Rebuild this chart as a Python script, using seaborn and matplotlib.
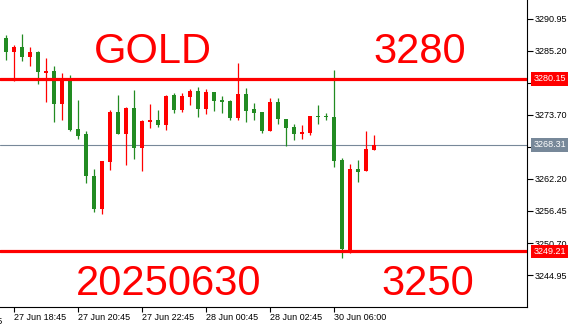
import numpy as np
import pandas as pd
import matplotlib
matplotlib.use("Agg")
import matplotlib.pyplot as plt
import matplotlib.transforms as mtransforms
import seaborn as sns

# ---------------- data (15-min bars, XAUUSD) ----------------
opens = [3288.67, 3287.42, 3284.96, 3285.80, 3284.06, 3284.90, 3281.19, 3281.50,
         3275.63, 3279.93, 3271.09, 3270.19, 3262.66, 3256.74, 3265.22, 3274.14,
         3270.19, 3274.86, 3267.73, 3272.40, 3272.70, 3271.86, 3277.19, 3274.55,
         3276.88, 3277.91, 3274.80, 3277.73, 3276.29, 3276.11, 3273.12, 3277.37,
         3274.68, 3274.14, 3270.78, 3275.93, 3272.88, 3271.45, 3270.25, 3270.43,
         3273.48, 3273.48, 3273.24, 3265.66, 3249.44, 3263.91, 3263.61, 3267.38]
closes = [3287.42, 3284.96, 3285.80, 3284.06, 3284.90, 3281.37, 3281.55, 3275.63,
          3279.93, 3270.96, 3269.89, 3262.71, 3256.74, 3265.35, 3274.14, 3270.19,
          3274.91, 3267.73, 3272.53, 3272.70, 3271.81, 3277.01, 3274.62, 3277.01,
          3277.91, 3274.80, 3277.73, 3276.17, 3276.06, 3273.12, 3277.37, 3274.37,
          3274.01, 3270.78, 3275.93, 3272.94, 3271.32, 3270.25, 3270.43, 3273.42,
          3273.24, 3273.24, 3265.40, 3249.56, 3263.91, 3263.43, 3267.50, 3268.31]
highs = [3289.03, 3287.95, 3286.16, 3288.13, 3285.80, 3285.08, 3283.83, 3282.39,
         3281.26, 3280.78, 3276.35, 3270.73, 3263.91, 3265.35, 3274.55, 3277.19,
         3275.09, 3278.14, 3272.76, 3275.63, 3274.50, 3277.19, 3277.55, 3277.55,
         3278.27, 3278.62, 3278.27, 3277.73, 3277.01, 3276.35, 3282.93, 3278.44,
         3275.75, 3274.14, 3276.65, 3276.65, 3272.88, 3271.99, 3271.81, 3273.42,
         3275.40, 3274.01, 3281.67, 3265.89, 3264.86, 3265.53, 3270.73, 3270.07]
lows = [3287.24, 3283.52, 3279.75, 3283.34, 3282.45, 3279.22, 3275.99, 3272.40,
        3272.76, 3270.78, 3269.42, 3261.53, 3256.26, 3255.84, 3263.79, 3270.19,
        3264.68, 3265.71, 3263.61, 3271.32, 3271.50, 3270.96, 3274.09, 3274.19,
        3275.52, 3273.37, 3273.91, 3274.44, 3274.01, 3272.76, 3272.76, 3272.40,
        3272.76, 3270.43, 3270.78, 3272.04, 3268.09, 3269.17, 3269.35, 3270.07,
        3272.04, 3272.76, 3264.33, 3248.00, 3248.90, 3261.64, 3263.61, 3267.38]

x_tick_pos = [2, 10, 18, 26, 34, 42]
x_tick_labels = ["27 Jun 18:45", "27 Jun 20:45", "27 Jun 22:45",
                 "28 Jun 00:45", "28 Jun 02:45", "30 Jun 06:00"]
y_ticks = [3290.95, 3285.20, 3279.45, 3273.70, 3267.95, 3262.20, 3256.45, 3250.70, 3244.95]
y_tick_labels = ["3290.95", "3285.20", "3279.45", "3273.70", "3267.95",
                 "3262.20", "3256.45", "3250.70", "3244.95"]
resistance = 3280.15
support = 3249.21
last_price = 3268.31
title_left = "GOLD"
title_right = "3280"
date_text = "20250630"
bottom_right = "3250"

df = pd.DataFrame({"open": opens, "high": highs, "low": lows, "close": closes})
df["idx"] = np.arange(len(df))

# ---------------- style ----------------
sns.set_style("white")
plt.rcParams["font.family"] = ["Liberation Sans", "DejaVu Sans"]

W, H = 571, 324
fig = plt.figure(figsize=(W / 100, H / 100), dpi=100)
ax = fig.add_axes([0, 17.5 / H, 527 / W, 306.5 / H])

GREEN = "#228B22"
RED = "#FF0000"
up = df["close"] >= df["open"]
cols = np.where(up, RED, GREEN)

ax.axhline(last_price, color="#778899", lw=0.8, zorder=1)

ax.vlines(df["idx"], df["low"], df["high"], colors=cols, lw=0.9, zorder=2)
body_bot = np.minimum(df["open"], df["close"])
body_h = np.maximum(np.abs(df["close"] - df["open"]), 0.3)
ax.bar(df["idx"], body_h, bottom=body_bot, width=0.62, color=cols, linewidth=0, zorder=3)

ax.axhline(resistance, color=RED, lw=2.3, zorder=4)
ax.axhline(support, color=RED, lw=2.3, zorder=4)

ax.set_xlim(0.25, 0.25 + 527 / 8)
ax.set_ylim(3294.30 - 306.5 * 0.1794, 3294.30)

# spines
for s in ["top", "left"]:
    ax.spines[s].set_visible(False)
for s in ["bottom", "right"]:
    ax.spines[s].set_visible(True)
    ax.spines[s].set_color("black")
    ax.spines[s].set_linewidth(0.8)

ax.yaxis.tick_right()
ax.set_yticks(y_ticks)
ax.set_yticklabels(y_tick_labels)
ax.set_xticks(x_tick_pos)
ax.set_xticklabels(x_tick_labels, ha="left")
ax.tick_params(axis="y", right=True, length=4, width=0.8, pad=1.5,
               labelsize=6.5, colors="black")
ax.tick_params(axis="x", bottom=True, length=3.5, width=0.8, pad=1.5,
               labelsize=6.5, colors="black")

# partial label at the far left (clipped by figure edge)
ax.text(-6, -0.035, "27 Jun 16:45", transform=mtransforms.blended_transform_factory(ax.transData, ax.transAxes),
        ha="left", va="top", fontsize=6.5, color="black", clip_on=False)
ax.plot([-6, -6], [0, -0.012], color="black", lw=0.8, clip_on=False,
        transform=mtransforms.blended_transform_factory(ax.transData, ax.transAxes))

# boxed price labels on the right
bt = mtransforms.blended_transform_factory(ax.transAxes, ax.transData)
for val, fc in [(resistance, RED), (last_price, "#778899"), (support, RED)]:
    ax.text(1.012, val, f"{val:.2f}", transform=bt, ha="left", va="center",
            fontsize=6.5, color="white", zorder=10, clip_on=False,
            bbox=dict(facecolor=fc, edgecolor="none", boxstyle="square,pad=0.25"))

# big annotation texts
def ftext(px, py, s):
    fig.text(px / W, 1 - py / H, s, ha="left", va="baseline", fontsize=30, color=RED)

ftext(94, 63, title_left)
ftext(373, 63, title_right)
ftext(76, 295, date_text)
ftext(381, 295, bottom_right)

fig.savefig("out.png", dpi=100)
